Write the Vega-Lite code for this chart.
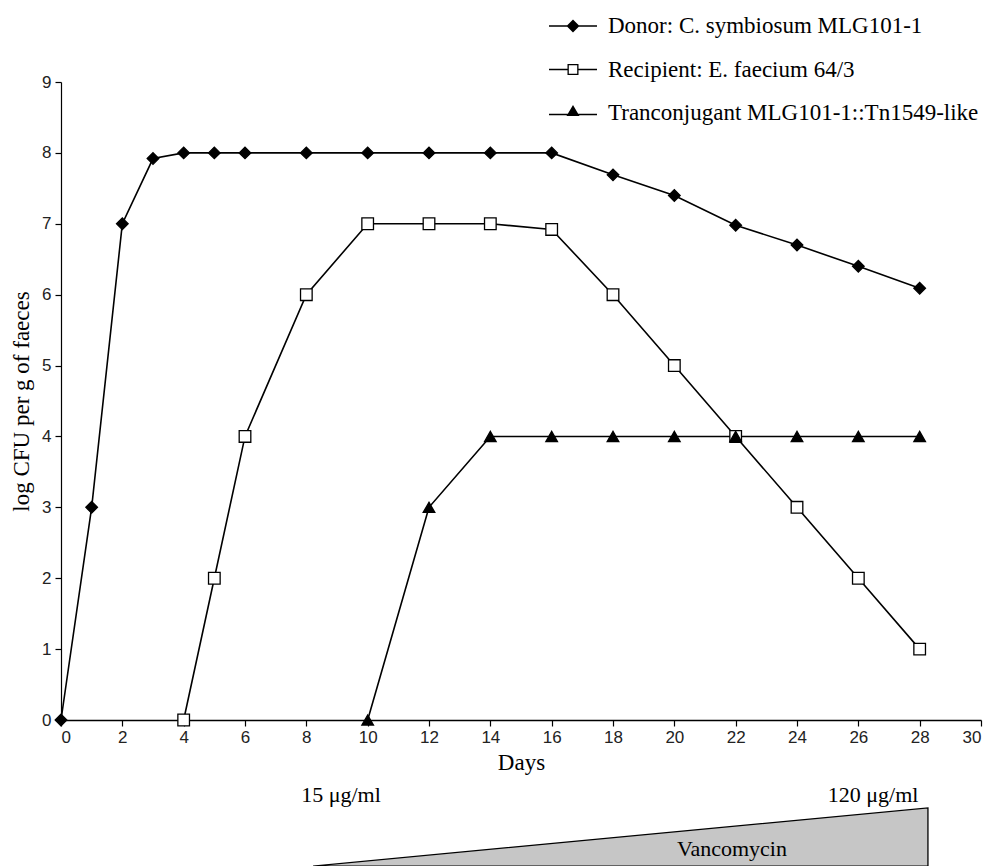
{
  "$schema": "https://vega.github.io/schema/vega-lite/v6.json",
  "width": 920,
  "height": 638,
  "autosize": {"type": "none"},
  "padding": {"left": 61, "top": 82, "right": 12, "bottom": 146},
  "background": "white",
  "config": {"view": {"stroke": null}},
  "resolve": {"scale": {"shape": "independent"}},
  "datasets": {
    "series": [
      {"series": "Donor: C. symbiosum MLG101-1", "day": 0, "logcfu": 0},
      {"series": "Donor: C. symbiosum MLG101-1", "day": 1, "logcfu": 3},
      {"series": "Donor: C. symbiosum MLG101-1", "day": 2, "logcfu": 7},
      {"series": "Donor: C. symbiosum MLG101-1", "day": 3, "logcfu": 7.92},
      {"series": "Donor: C. symbiosum MLG101-1", "day": 4, "logcfu": 8},
      {"series": "Donor: C. symbiosum MLG101-1", "day": 5, "logcfu": 8},
      {"series": "Donor: C. symbiosum MLG101-1", "day": 6, "logcfu": 8},
      {"series": "Donor: C. symbiosum MLG101-1", "day": 8, "logcfu": 8},
      {"series": "Donor: C. symbiosum MLG101-1", "day": 10, "logcfu": 8},
      {"series": "Donor: C. symbiosum MLG101-1", "day": 12, "logcfu": 8},
      {"series": "Donor: C. symbiosum MLG101-1", "day": 14, "logcfu": 8},
      {"series": "Donor: C. symbiosum MLG101-1", "day": 16, "logcfu": 8},
      {"series": "Donor: C. symbiosum MLG101-1", "day": 18, "logcfu": 7.69},
      {"series": "Donor: C. symbiosum MLG101-1", "day": 20, "logcfu": 7.4},
      {"series": "Donor: C. symbiosum MLG101-1", "day": 22, "logcfu": 6.98},
      {"series": "Donor: C. symbiosum MLG101-1", "day": 24, "logcfu": 6.7},
      {"series": "Donor: C. symbiosum MLG101-1", "day": 26, "logcfu": 6.4},
      {"series": "Donor: C. symbiosum MLG101-1", "day": 28, "logcfu": 6.09},
      {"series": "Recipient: E. faecium 64/3", "day": 4, "logcfu": 0},
      {"series": "Recipient: E. faecium 64/3", "day": 5, "logcfu": 2},
      {"series": "Recipient: E. faecium 64/3", "day": 6, "logcfu": 4},
      {"series": "Recipient: E. faecium 64/3", "day": 8, "logcfu": 6},
      {"series": "Recipient: E. faecium 64/3", "day": 10, "logcfu": 7},
      {"series": "Recipient: E. faecium 64/3", "day": 12, "logcfu": 7},
      {"series": "Recipient: E. faecium 64/3", "day": 14, "logcfu": 7},
      {"series": "Recipient: E. faecium 64/3", "day": 16, "logcfu": 6.92},
      {"series": "Recipient: E. faecium 64/3", "day": 18, "logcfu": 6},
      {"series": "Recipient: E. faecium 64/3", "day": 20, "logcfu": 5},
      {"series": "Recipient: E. faecium 64/3", "day": 22, "logcfu": 4},
      {"series": "Recipient: E. faecium 64/3", "day": 24, "logcfu": 3},
      {"series": "Recipient: E. faecium 64/3", "day": 26, "logcfu": 2},
      {"series": "Recipient: E. faecium 64/3", "day": 28, "logcfu": 1},
      {"series": "Tranconjugant MLG101-1::Tn1549-like", "day": 10, "logcfu": 0},
      {"series": "Tranconjugant MLG101-1::Tn1549-like", "day": 12, "logcfu": 3},
      {"series": "Tranconjugant MLG101-1::Tn1549-like", "day": 14, "logcfu": 4},
      {"series": "Tranconjugant MLG101-1::Tn1549-like", "day": 16, "logcfu": 4},
      {"series": "Tranconjugant MLG101-1::Tn1549-like", "day": 18, "logcfu": 4},
      {"series": "Tranconjugant MLG101-1::Tn1549-like", "day": 20, "logcfu": 4},
      {"series": "Tranconjugant MLG101-1::Tn1549-like", "day": 22, "logcfu": 4},
      {"series": "Tranconjugant MLG101-1::Tn1549-like", "day": 24, "logcfu": 4},
      {"series": "Tranconjugant MLG101-1::Tn1549-like", "day": 26, "logcfu": 4},
      {"series": "Tranconjugant MLG101-1::Tn1549-like", "day": 28, "logcfu": 4}
    ],
    "wedge": [
      {"day": 8.22, "top": -2.06, "base": -2.06},
      {"day": 28.27, "top": -1.24, "base": -2.06}
    ],
    "notes": [
      {"label": "15 μg/ml", "day": 9.13, "lvl": -1.06},
      {"label": "120 μg/ml", "day": 26.48, "lvl": -1.06},
      {"label": "Vancomycin", "day": 21.88, "lvl": -1.82}
    ]
  },
  "layer": [
    {
      "data": {"name": "wedge"},
      "mark": {"type": "area", "fill": "#c6c6c6", "stroke": "black", "strokeWidth": 1.3, "clip": false},
      "encoding": {
        "x": {"field": "day", "type": "quantitative"},
        "y": {"field": "top", "type": "quantitative"},
        "y2": {"field": "base"}
      }
    },
    {
      "data": {"name": "notes"},
      "mark": {"type": "text", "font": "Liberation Serif", "fontSize": 22, "color": "black", "baseline": "middle", "align": "center"},
      "encoding": {
        "x": {"field": "day", "type": "quantitative"},
        "y": {"field": "lvl", "type": "quantitative"},
        "text": {"field": "label"}
      }
    },
    {
      "data": {"name": "series"},
      "mark": {"type": "line", "color": "black", "strokeWidth": 1.6},
      "encoding": {
        "x": {
          "field": "day", "type": "quantitative",
          "scale": {"domain": [0, 30], "nice": false, "zero": false},
          "axis": {
            "title": "Days", "values": [0,2,4,6,8,10,12,14,16,18,20,22,24,26,28,30], "format": "d",
            "grid": false, "domainColor": "black", "domainWidth": 1.5, "tickColor": "black", "tickSize": 6, "tickWidth": 1.2,
            "labelFont": "Liberation Sans", "labelFontSize": 17, "labelColor": "#222", "labelPadding": 3,
            "titleFont": "Liberation Serif", "titleFontSize": 23, "titleFontWeight": "normal", "titleColor": "black", "titlePadding": 6
          }
        },
        "y": {
          "field": "logcfu", "type": "quantitative",
          "scale": {"domain": [0, 9], "nice": false},
          "axis": {
            "title": "log CFU per g of faeces", "values": [0,1,2,3,4,5,6,7,8,9], "format": "d",
            "grid": false, "domainColor": "black", "domainWidth": 1.2, "tickColor": "black", "tickSize": 6, "tickWidth": 1.2,
            "labelFont": "Liberation Sans", "labelFontSize": 17, "labelColor": "#222", "labelPadding": 4,
            "titleFont": "Liberation Serif", "titleFontSize": 23, "titleFontWeight": "normal", "titleColor": "black", "titlePadding": 8
          }
        },
        "detail": {"field": "series"}
      }
    },
    {
      "data": {"name": "series"},
      "mark": {"type": "point", "filled": true, "stroke": "black", "strokeWidth": 1.3, "opacity": 1, "size": 135},
      "encoding": {
        "x": {"field": "day", "type": "quantitative"},
        "y": {"field": "logcfu", "type": "quantitative"},
        "fill": {
          "condition": {"test": "datum.series === 'Recipient: E. faecium 64/3'", "value": "white"},
          "value": "black"
        },
        "shape": {
          "field": "series", "type": "nominal",
          "scale": {
            "domain": ["Donor: C. symbiosum MLG101-1", "Recipient: E. faecium 64/3", "Tranconjugant MLG101-1::Tn1549-like"],
            "range": ["diamond", "square", "triangle-up"]
          },
          "legend": null
        }
      }
    },
    {
      "data": {"name": "series"},
      "mark": {"type": "point", "filled": true, "color": "black", "opacity": 0, "size": 10},
      "encoding": {
        "x": {"field": "day", "type": "quantitative"},
        "y": {"field": "logcfu", "type": "quantitative"},
        "shape": {
          "field": "series", "type": "nominal",
          "scale": {
            "domain": ["Donor: C. symbiosum MLG101-1", "Recipient: E. faecium 64/3", "Tranconjugant MLG101-1::Tn1549-like"],
            "range": [
              "M-1.333,-0.042H1.333V0.042H-1.333Z M0,-0.36L0.36,0L0,0.36L-0.36,0Z",
              "M-1.333,-0.042H-0.306V0.042H-1.333Z M0.306,-0.042H1.333V0.042H0.306Z M-0.306,-0.306H0.306V0.306H-0.306Z M-0.233,-0.233V0.233H0.233V-0.233Z",
              "M-1.333,0.038H1.333V0.122H-1.333Z M0,-0.45L0.36,0.17L-0.36,0.17Z"
            ]
          },
          "legend": {
            "title": null, "orient": "none", "legendX": 494, "legendY": -74,
            "symbolSize": 1296, "symbolFillColor": "black", "symbolStrokeWidth": 0, "symbolOpacity": 1,
            "labelFont": "Liberation Serif", "labelFontSize": 23, "labelColor": "black", "labelLimit": 0, "labelOffset": 17,
            "rowPadding": 13.5, "padding": 0
          }
        }
      }
    }
  ]
}
